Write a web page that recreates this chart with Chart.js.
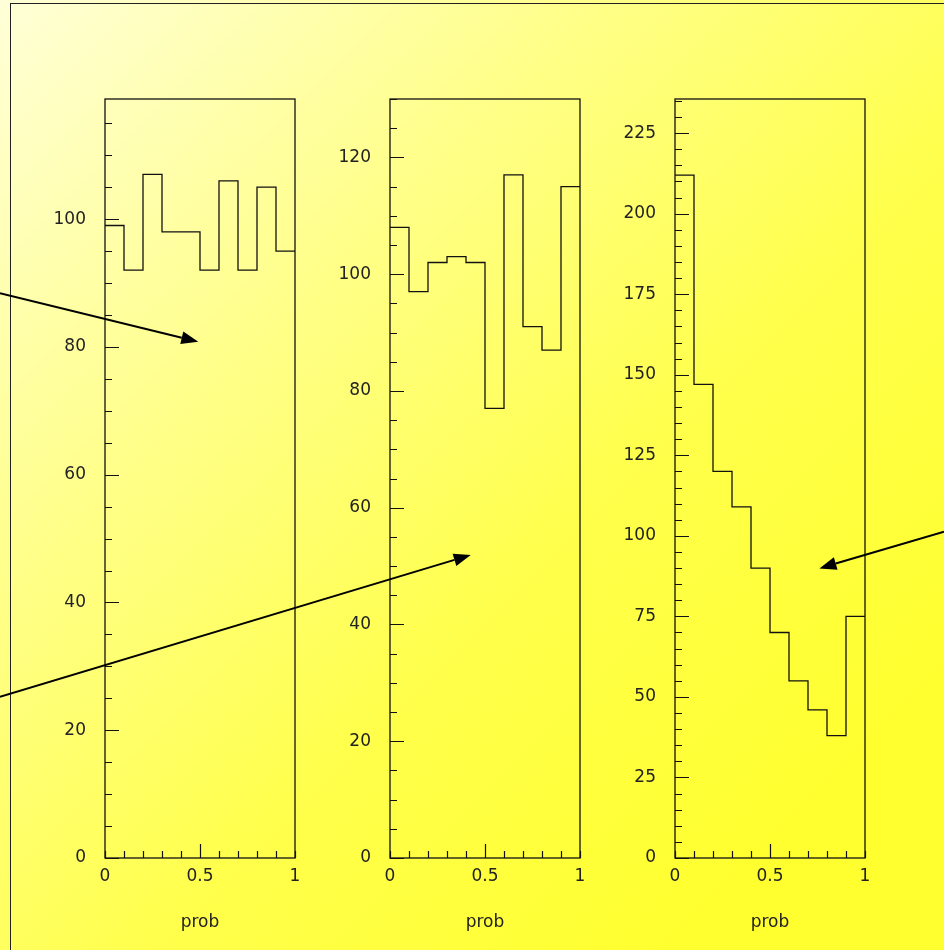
<!DOCTYPE html>
<html>
<head>
<meta charset="utf-8">
<script src="https://cdn.jsdelivr.net/npm/chart.js@4/dist/chart.umd.min.js"></script>
<style>
  html, body { margin: 0; padding: 0; }
  body {
    width: 944px; height: 950px; overflow: hidden; position: relative;
    background: linear-gradient(135deg, #ffffd8 0%, #ffff8c 30%, #ffff4c 58%, #ffff30 85%);
  }
  .frame { position: absolute; left: 10px; top: 3px; width: 2000px; height: 2000px;
    border-left: 1px solid #222; border-top: 1px solid #222; }
  canvas { position: absolute; left: 0; top: 0; }
</style>
</head>
<body>
<div class="frame"></div>
<canvas id="h1" width="944" height="950"></canvas>
<canvas id="h2" width="944" height="950"></canvas>
<canvas id="h3" width="944" height="950"></canvas>
<script>
// bin lower edges of the "prob" histograms (10 bins from 0 to 1)
const binLow = [0, 0.1, 0.2, 0.3, 0.4, 0.5, 0.6, 0.7, 0.8, 0.9];
const binHigh = 1;
const countsA = [99, 92, 107, 98, 98, 92, 106, 92, 105, 95];
const countsB = [108, 97, 102, 103, 102, 77, 117, 91, 87, 115];
const countsC = [212, 147, 120, 109, 90, 70, 55, 46, 38, 75];
const xTickLabels = ['0', '0.5', '1'];
const xTitle = 'prob';

// arrows, in each panel's own data coordinates: [x0, y0, x1 (tip), y1 (tip)]
const arrowsA = [[-0.553, 88.4, 0.491, 80.8]];
const arrowsB = [[-2.053, 27.6, 0.425, 51.9]];
const arrowsC = [[1.416, 101.3, 0.76, 89.9]];

const FONT = { family: "'DejaVu Sans', 'Liberation Sans', sans-serif", size: 17 };
const TXT = '#222';

function toPoints(counts) {
  const pts = binLow.map((x, i) => ({ x, y: counts[i] }));
  pts.push({ x: binHigh, y: counts[counts.length - 1] });
  return pts;
}

// frame, inward tick marks and arrows
const histDeco = {
  id: 'histDeco',
  afterDraw(chart, args, opts) {
    const { ctx, chartArea: a, scales } = chart;
    const xs = scales.x, ys = scales.y;
    ctx.save();
    ctx.strokeStyle = '#111';
    ctx.lineWidth = 1.3;
    ctx.strokeRect(a.left, a.top, a.right - a.left, a.bottom - a.top);

    ctx.lineWidth = 1.2;
    ctx.beginPath();
    ys.ticks.forEach((t) => {
      const py = Math.round(ys.getPixelForValue(t.value)) + 0.5;
      const len = Math.round(t.value) % opts.yMajor === 0 ? 14 : 7;
      ctx.moveTo(a.left, py);
      ctx.lineTo(a.left + len, py);
    });
    xs.ticks.forEach((t) => {
      const px = Math.round(xs.getPixelForValue(t.value)) + 0.5;
      const len = Math.abs(t.value - 0.5) < 1e-6 ? 14 : 7;
      ctx.moveTo(px, a.bottom);
      ctx.lineTo(px, a.bottom - len);
    });
    ctx.stroke();

    ctx.fillStyle = '#000';
    ctx.strokeStyle = '#000';
    opts.arrows.forEach(([x0, y0, x1, y1]) => {
      const sx = xs.getPixelForValue(x0), sy = ys.getPixelForValue(y0);
      const ex = xs.getPixelForValue(x1), ey = ys.getPixelForValue(y1);
      const ang = Math.atan2(ey - sy, ex - sx);
      const head = 17, half = 6.5;
      const bx = ex - head * Math.cos(ang), by = ey - head * Math.sin(ang);
      ctx.lineWidth = 2;
      ctx.beginPath();
      ctx.moveTo(sx, sy);
      ctx.lineTo(bx, by);
      ctx.stroke();
      ctx.beginPath();
      ctx.moveTo(ex, ey);
      ctx.lineTo(bx + half * Math.sin(ang), by - half * Math.cos(ang));
      ctx.lineTo(bx - half * Math.sin(ang), by + half * Math.cos(ang));
      ctx.closePath();
      ctx.fill();
    });
    ctx.restore();
  }
};

function makeHist(id, counts, left, yMax, yMajor, arrows) {
  new Chart(document.getElementById(id), {
    type: 'line',
    data: {
      datasets: [{
        data: toPoints(counts),
        stepped: 'before',
        borderColor: '#111',
        borderWidth: 1.3,
        pointRadius: 0,
        fill: false
      }]
    },
    options: {
      responsive: false,
      animation: false,
      devicePixelRatio: 1,
      layout: { padding: { left: left - 70, right: 944 - (left + 190), top: 99, bottom: 0 } },
      plugins: { legend: { display: false }, tooltip: { enabled: false }, histDeco: { yMajor, arrows } },
      scales: {
        x: {
          type: 'linear', min: 0, max: 1,
          border: { display: false },
          grid: { display: false, drawTicks: false },
          afterFit: (s) => { s.height = 92; },
          ticks: {
            stepSize: 0.1, autoSkip: false, maxRotation: 0, includeBounds: false,
            padding: 8, color: TXT, font: FONT,
            callback: (v) => {
              const k = Math.round(v * 10);
              if (k === 0) return xTickLabels[0];
              if (k === 5) return xTickLabels[1];
              if (k === 10) return xTickLabels[2];
              return '';
            }
          },
          title: { display: true, text: xTitle, color: TXT, font: FONT, padding: { top: 0, bottom: 17 } }
        },
        y: {
          type: 'linear', min: 0, max: yMax,
          border: { display: false },
          grid: { display: false, drawTicks: false },
          afterFit: (s) => { s.width = 70; },
          ticks: {
            stepSize: 5, autoSkip: false, includeBounds: false,
            padding: 19, color: TXT, font: FONT,
            callback: (v) => (Math.round(v) % yMajor === 0 ? String(Math.round(v)) : '')
          }
        }
      }
    },
    plugins: [histDeco]
  });
}

makeHist('h1', countsA, 105, 118.8, 20, arrowsA);
makeHist('h2', countsB, 390, 130, 20, arrowsB);
makeHist('h3', countsC, 675, 235.6, 25, arrowsC);
</script>
</body>
</html>
